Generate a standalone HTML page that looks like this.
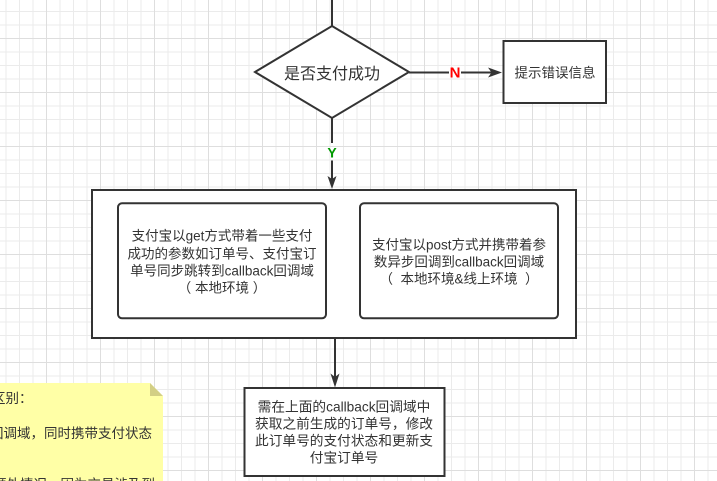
<!DOCTYPE html>
<html>
<head>
<meta charset="utf-8">
<style>
html,body{margin:0;padding:0;background:#fff;}
body{width:717px;height:481px;overflow:hidden;}
svg{display:block;}
text{font-family:"Liberation Sans","Noto Sans CJK SC",sans-serif;fill:#333;text-spacing-trim:space-all;}
</style>
</head>
<body>
<svg width="717" height="481" viewBox="0 0 717 481" xmlns="http://www.w3.org/2000/svg">
  <defs>
    <pattern id="g" x="46" y="38" width="54" height="54" patternUnits="userSpaceOnUse">
      <rect x="0" y="0" width="54" height="54" fill="#ffffff"/>
      <rect x="13.5" y="0" width="1" height="54" fill="#ebebeb"/>
      <rect x="27" y="0" width="1" height="54" fill="#ebebeb"/>
      <rect x="40.5" y="0" width="1" height="54" fill="#ebebeb"/>
      <rect x="0" y="13.5" width="54" height="1" fill="#ebebeb"/>
      <rect x="0" y="27" width="54" height="1" fill="#ebebeb"/>
      <rect x="0" y="40.5" width="54" height="1" fill="#ebebeb"/>
      <rect x="0" y="0" width="1" height="54" fill="#dedede"/>
      <rect x="0" y="0" width="54" height="1" fill="#dedede"/>
    </pattern>
  </defs>
  <rect x="0" y="0" width="717" height="481" fill="url(#g)"/>

  <!-- top connector -->
  <line x1="332" y1="0" x2="332" y2="26" stroke="#333" stroke-width="2"/>

  <!-- diamond -->
  <polygon points="332,26 409,72 332,118 255,72" fill="#fff" stroke="#333" stroke-width="2"/>
  <text x="332" y="79" font-size="16" text-anchor="middle">是否支付成功</text>

  <!-- N connector -->
  <line x1="409" y1="72.5" x2="449" y2="72.5" stroke="#333" stroke-width="2"/>
  <line x1="461" y1="72.5" x2="492" y2="72.5" stroke="#333" stroke-width="2"/>
  <polygon points="502,72.5 488,67.5 491.5,72.5 488,77.5" fill="#333"/>
  <text x="455" y="77.5" font-size="15" font-weight="bold" text-anchor="middle" style="fill:#ff0000">N</text>

  <!-- error box -->
  <rect x="503.5" y="41" width="102.5" height="62" fill="#fff" stroke="#333" stroke-width="2"/>
  <text x="555" y="77.5" font-size="13.5" text-anchor="middle">提示错误信息</text>

  <!-- Y connector -->
  <line x1="332" y1="118" x2="332" y2="143" stroke="#333" stroke-width="2"/>
  <line x1="332" y1="160.5" x2="332" y2="180" stroke="#333" stroke-width="2"/>
  <polygon points="332,189 327.5,176 332,179 336.5,176" fill="#333"/>
  <text x="332" y="157.5" font-size="14" font-weight="bold" text-anchor="middle" style="fill:#009900">Y</text>

  <!-- outer container -->
  <rect x="92" y="190" width="484" height="148" fill="#fff" stroke="#333" stroke-width="2"/>

  <!-- inner left -->
  <rect x="118" y="203.3" width="208" height="115" rx="4" ry="4" fill="#fff" stroke="#333" stroke-width="2"/>
  <g font-size="13.5" text-anchor="middle">
    <text x="222" y="240.7">支付宝以get方式带着一些支付</text>
    <text x="222" y="258.3">成功的参数如订单号、支付宝订</text>
    <text x="222" y="275.7">单号同步跳转到callback回调域</text>
    <text x="222" y="292.3" xml:space="preserve">（ 本地环境 ）</text>
  </g>

  <!-- inner right -->
  <rect x="360" y="203.3" width="198" height="115" rx="4" ry="4" fill="#fff" stroke="#333" stroke-width="2"/>
  <g font-size="13.5" text-anchor="middle">
    <text x="459" y="249.7">支付宝以post方式并携带着参</text>
    <text x="459" y="266.7">数异步回调到callback回调域</text>
    <text x="459" y="283.7" xml:space="preserve">（  本地环境&amp;线上环境  ）</text>
  </g>

  <!-- bottom connector -->
  <line x1="335" y1="338" x2="335" y2="378" stroke="#333" stroke-width="2"/>
  <polygon points="335,387.5 330.5,373.5 335,377 339.5,373.5" fill="#333"/>

  <!-- bottom box -->
  <rect x="244.5" y="388" width="200" height="88" fill="#fff" stroke="#333" stroke-width="2"/>
  <g font-size="13.7" text-anchor="middle">
    <text x="344" y="411.7">需在上面的callback回调域中</text>
    <text x="344" y="428.3">获取之前生成的订单号，修改</text>
    <text x="344" y="445.3">此订单号的支付状态和更新支</text>
    <text x="344" y="462.3">付宝订单号</text>
  </g>

  <!-- sticky note -->
  <polygon points="-2,383 150,383 163,396 163,483 -2,483" fill="#ffffa6"/>
  <polygon points="150,383 163,396 150,396" fill="#d3cf85"/>
  <g font-size="13.5">
    <text x="-8" y="403">区别：</text>
    <text x="152" y="438" text-anchor="end">回调域，同时携带支付状态</text>
    <text x="155" y="489" text-anchor="end">额外情况，因为交易涉及到</text>
  </g>
</svg>
</body>
</html>
